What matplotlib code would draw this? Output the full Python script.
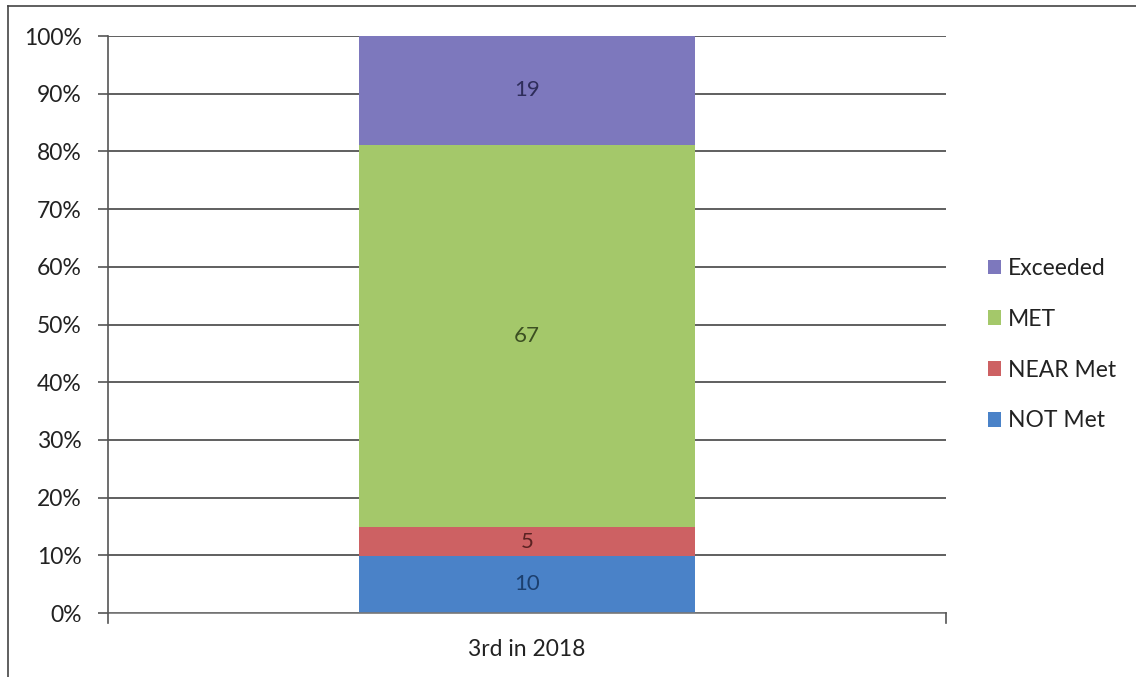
import matplotlib.pyplot as plt
from matplotlib.lines import Line2D
from matplotlib.ticker import PercentFormatter

# Resultados por nivel (conteo de alumnos)
categoria = "3rd in 2018"
niveles = ["NOT Met", "NEAR Met", "MET", "Exceeded"]
conteos = [10, 5, 67, 19]

colores = ["#4a82c8", "#cd6163", "#a4c86a", "#7d78bd"]
colores_texto = ["#1c3f6e", "#5a2222", "#3c4f22", "#2e2d5a"]

plt.rcParams["font.family"] = ["Lato", "DejaVu Sans"]

fig = plt.figure(figsize=(11.36, 6.77), dpi=100)
ax = fig.add_axes([0.095, 0.0945, 0.7377, 0.8523])

total = sum(conteos)
base = 0.0
for nivel, n, c, ct in zip(niveles, conteos, colores, colores_texto):
    pct = n / total * 100
    ax.bar(0, pct, bottom=base, width=0.4, color=c, label=nivel, zorder=2)
    ax.text(0, base + pct / 2, str(n), ha="center", va="center",
            fontsize=16, color=ct, zorder=3)
    base += pct

# --- Ejes y rejilla ---
ax.set_xlim(-0.5, 0.5)
ax.set_ylim(0, 100)
ax.set_yticks(range(0, 101, 10))
ax.yaxis.set_major_formatter(PercentFormatter(decimals=0))
ax.set_xticks([0])
ax.set_xticklabels([categoria])
ax.tick_params(axis="y", labelsize=16.5, length=7, width=1.2, color="#555555",
               labelcolor="#222222", pad=12)
ax.tick_params(axis="x", labelsize=16.5, length=0, labelcolor="#222222", pad=19)
ax.grid(axis="y", color="#444444", linewidth=1.2, zorder=1)
for lado in ["top", "right"]:
    ax.spines[lado].set_visible(False)
ax.spines["left"].set_color("#555555")
ax.spines["left"].set_linewidth(1.2)
ax.spines["bottom"].set_color("#777777")
ax.spines["bottom"].set_linewidth(1.2)

# Marcas del eje x en los extremos
for xb in [-0.5, 0.5]:
    ax.plot([xb, xb], [0, -1.8], color="#555555", linewidth=1.2,
            clip_on=False, zorder=3)

# --- Leyenda en orden inverso ---
handles, labels = ax.get_legend_handles_labels()
ax.legend(handles[::-1], labels[::-1], loc="center left",
          bbox_to_anchor=(1.025, 0.465), frameon=False, fontsize=16.5,
          handlelength=0.6, handleheight=0.6, handletextpad=0.3,
          labelspacing=1.3, labelcolor="#222222")

# Marco exterior (solo arriba e izquierda)
fig.add_artist(Line2D([0.007, 1.0], [0.991, 0.991], color="#444444",
                      linewidth=1.2, transform=fig.transFigure))
fig.add_artist(Line2D([0.007, 0.007], [0.0, 0.991], color="#444444",
                      linewidth=1.2, transform=fig.transFigure))

fig.savefig("out.png", dpi=100)
plt.close(fig)
